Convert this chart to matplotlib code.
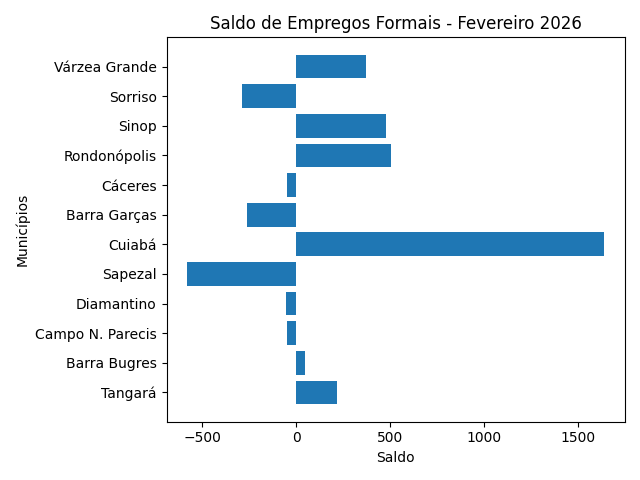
import matplotlib
matplotlib.use('Agg')
import matplotlib.pyplot as plt

municipios = ['Tangará', 'Barra Bugres', 'Campo N. Parecis', 'Diamantino', 'Sapezal',
              'Cuiabá', 'Barra Garças', 'Cáceres', 'Rondonópolis', 'Sinop',
              'Sorriso', 'Várzea Grande']
saldo = [218, 48, -48, -53, -580, 1638, -261, -48, 505, 479, -287, 372]

fig, ax = plt.subplots(figsize=(6.4, 4.8), dpi=100)
ax.barh(municipios, saldo)
ax.set_xlabel('Saldo')
ax.set_ylabel('Municípios')
ax.set_title('Saldo de Empregos Formais - Fevereiro 2026')
plt.tight_layout()
plt.savefig('out.png')
